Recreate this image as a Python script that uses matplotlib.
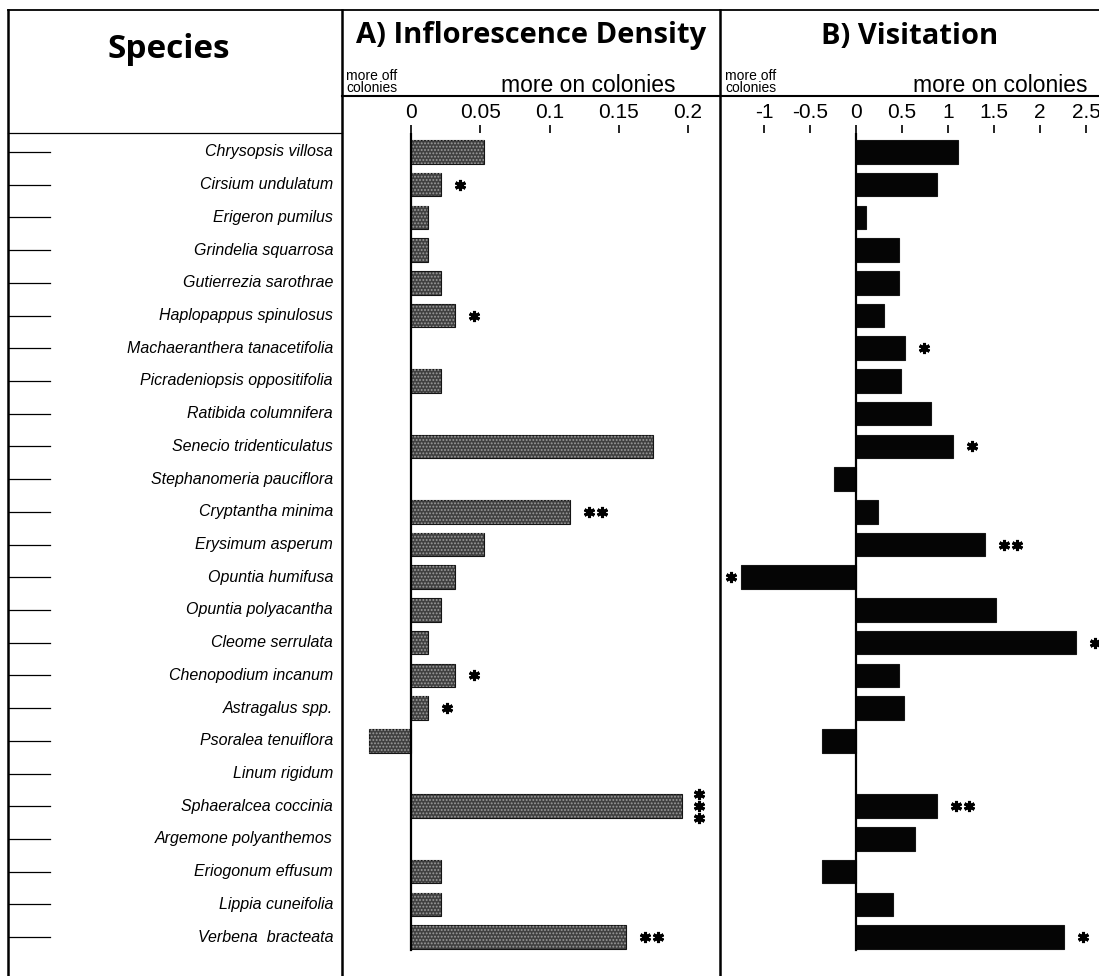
import matplotlib
matplotlib.use('Agg')
import matplotlib.pyplot as plt
from matplotlib.lines import Line2D
from matplotlib.transforms import offset_copy
import numpy as np

# ---------------- data ----------------
species = [
    "Chrysopsis villosa", "Cirsium undulatum", "Erigeron pumilus",
    "Grindelia squarrosa", "Gutierrezia sarothrae", "Haplopappus spinulosus",
    "Machaeranthera tanacetifolia", "Picradeniopsis oppositifolia",
    "Ratibida columnifera", "Senecio tridenticulatus", "Stephanomeria pauciflora",
    "Cryptantha minima", "Erysimum asperum", "Opuntia humifusa",
    "Opuntia polyacantha", "Cleome serrulata", "Chenopodium incanum",
    "Astragalus spp.", "Psoralea tenuiflora", "Linum rigidum",
    "Sphaeralcea coccinia", "Argemone polyanthemos", "Eriogonum effusum",
    "Lippia cuneifolia", "Verbena  bracteata",
]
density = [0.053, 0.022, 0.012, 0.012, 0.022, 0.032, np.nan, 0.022, np.nan,
           0.175, np.nan, 0.115, 0.053, 0.032, 0.022, 0.012, 0.032, 0.012,
           -0.030, np.nan, 0.196, np.nan, 0.022, 0.022, 0.155]
visitation = [1.11, 0.88, 0.11, 0.47, 0.47, 0.30, 0.53, 0.49, 0.82, 1.05,
              -0.24, 0.24, 1.40, -1.25, 1.52, 2.39, 0.47, 0.52, -0.37, np.nan,
              0.88, 0.64, -0.37, 0.40, 2.26]
sig_density = ["", "*", "", "", "", "*", "", "", "", "", "", "**", "", "", "",
               "", "*", "*", "", "", "***", "", "", "", "**"]
sig_visitation = ["", "", "", "", "", "", "*", "", "", "*", "", "", "**", "*",
                  "", "*", "", "", "", "", "**", "", "", "", "*"]
density_ticks = [0, 0.05, 0.1, 0.15, 0.2]
density_ticklabels = ["0", "0.05", "0.1", "0.15", "0.2"]
visit_ticks = [-1, -0.5, 0, 0.5, 1, 1.5, 2, 2.5]
visit_ticklabels = ["-1", "-0.5", "0", "0.5", "1", "1.5", "2", "2.5"]

# ---------------- layout ----------------
W, H = 1099, 976
fig = plt.figure(figsize=(W / 100, H / 100), dpi=100)
plt.rcParams['hatch.linewidth'] = 0.9

SANS = ['Liberation Sans', 'DejaVu Sans']
BOLD = ['Open Sans', 'DejaVu Sans']


def fx(x):
    return x / W


def fy(y):
    return 1 - y / H


def hline(x0, x1, y, lw):
    fig.add_artist(Line2D([fx(x0), fx(x1)], [fy(y), fy(y)],
                          transform=fig.transFigure, color='black', lw=lw))


def vline(x, y0, y1, lw):
    fig.add_artist(Line2D([fx(x), fx(x)], [fy(y0), fy(y1)],
                          transform=fig.transFigure, color='black', lw=lw))


top_px = 133
ax_h = (H - top_px) / H
n = len(species)
rows = np.arange(n)
ylim = (n - 1 + 1.19, -0.58)

axS = fig.add_axes([fx(8), 0, fx(342) - fx(8), ax_h])
axA = fig.add_axes([fx(342), 0, fx(720) - fx(342), ax_h])
axB = fig.add_axes([fx(720), 0, fx(1099) - fx(720), ax_h])

for ax in (axS, axA, axB):
    ax.set_ylim(*ylim)
    for s in ax.spines.values():
        s.set_visible(False)
    ax.set_yticks([])
    ax.patch.set_alpha(0)

# species panel
axS.set_xlim(8, 342)
axS.set_xticks([])
for i, name in enumerate(species):
    axS.text(333, i, name, ha='right', va='center', fontsize=11.5,
             style='italic', family=SANS)
    axS.plot([8, 50], [i, i], color='black', lw=0.9)


def draw_panel(ax, vals, sigs, ticks, ticklabels, xlim, color, textured):
    ax.set_xlim(*xlim)
    ax.xaxis.tick_top()
    ax.set_xticks(ticks)
    ax.set_xticklabels(ticklabels, family=SANS, fontsize=15)
    ax.tick_params(axis='x', direction='out', length=6, width=1.2, pad=2)
    v = np.array(vals, dtype=float)
    ok = ~np.isnan(v)
    ax.barh(rows[ok], v[ok], height=0.72, color=color, edgecolor='#151515',
            lw=0.8, zorder=2)
    if textured:
        ax.barh(rows[ok], v[ok], height=0.72, facecolor='none',
                edgecolor='#9a9a9a', hatch='.....', lw=0, zorder=3)
    ax.plot([0, 0], [ylim[1], n - 1 + 0.4], color='black', lw=1.6, zorder=4)
    for i, (val, s) in enumerate(zip(v, sigs)):
        if not s or np.isnan(val):
            continue
        k = len(s)
        if k == 3:
            offs = [(17, 12), (17, 0), (17, -12)]
        elif val >= 0:
            offs = [(19 + 13 * j, 0) for j in range(k)]
        else:
            offs = [(-10 - 13 * j, 0) for j in range(k)]
        for dx, dy in offs:
            tr = offset_copy(ax.transData, fig=fig, x=dx, y=dy, units='dots')
            ax.plot([val], [i], marker=(6, 2, 0), ms=8, mew=2.2,
                    color='black', transform=tr, zorder=5, clip_on=False)


draw_panel(axA, density, sig_density, density_ticks, density_ticklabels,
           ((342 - 411) / 1385, (720 - 411) / 1385), '#404040', True)
draw_panel(axB, visitation, sig_visitation, visit_ticks, visit_ticklabels,
           ((720 - 856) / 92, (1099 - 856) / 92), '#050505', False)

# frame lines
hline(8, 1099, 10, 1.3)
hline(342, 1099, 96, 1.5)
hline(8, 342, 133, 0.9)
for x in (8, 342, 720):
    vline(x, 10, 976, 1.8)

# header texts
fig.text(fx(169), fy(50), "Species", ha='center', va='center',
         fontsize=24, fontweight='bold', family=BOLD)
fig.text(fx(531), fy(36), "A) Inflorescence Density", ha='center',
         va='center', fontsize=21, fontweight='bold', family=BOLD)
fig.text(fx(910), fy(36), "B) Visitation", ha='center', va='center',
         fontsize=21, fontweight='bold', family=BOLD)
for xl, xc in ((346, 588), (725, 1000)):
    fig.text(fx(xl), fy(82), "more off\ncolonies", ha='left', va='center',
             fontsize=10, family=SANS, linespacing=0.85)
    fig.text(fx(xc), fy(86), "more on colonies", ha='center', va='center',
             fontsize=16.5, family=SANS)

fig.savefig('out.png', dpi=100)
